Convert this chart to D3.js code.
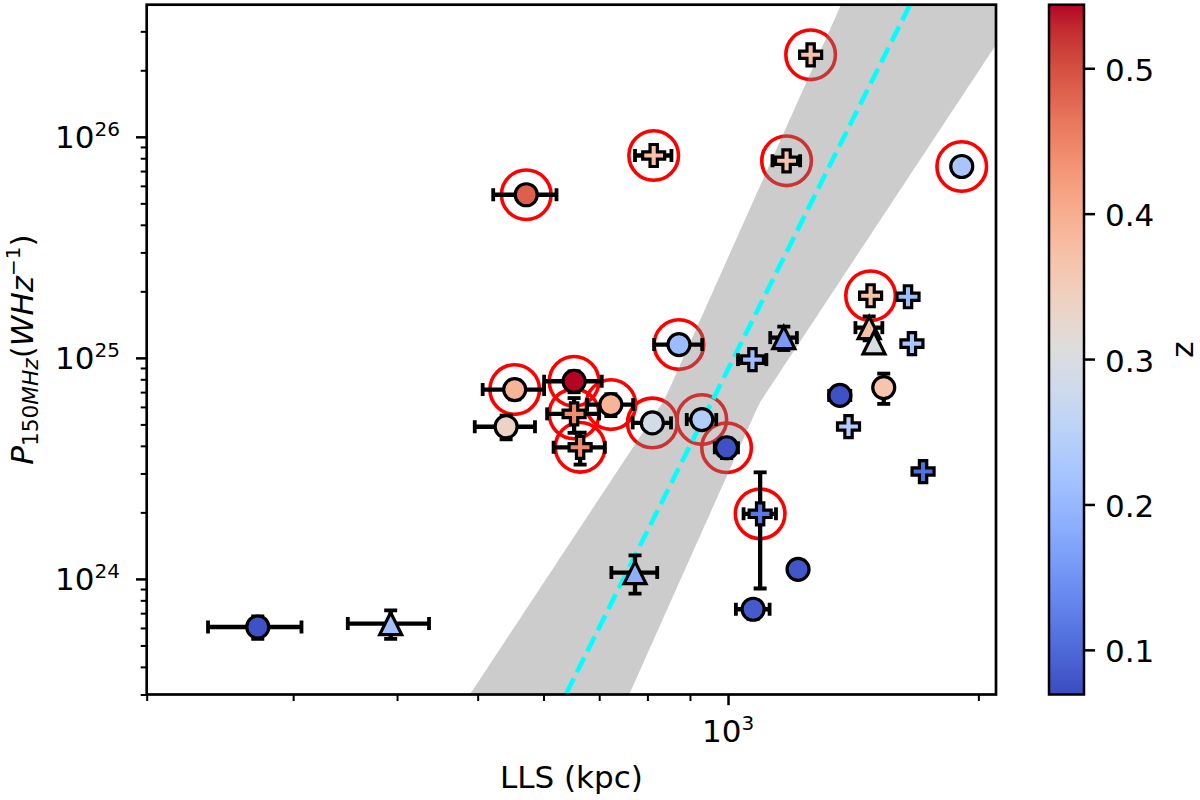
<!DOCTYPE html>
<html>
<head>
<meta charset="utf-8">
<script src="https://cdn.jsdelivr.net/npm/d3@7"></script>
<style>
  body { margin: 0; background: #ffffff; }
  text { font-family: "DejaVu Sans", sans-serif; fill: #000; }
</style>
</head>
<body>
<svg id="chart" width="1200" height="800"></svg>
<script>
// ---------------- data ----------------
const lls = [272, 393, 572, 814, 1176, 1257, 1910, 1484, 1646, 1478, 1498, 1664, 1167, 1070, 1363, 1539,
             1396, 1716, 873, 554, 653, 723, 653, 541, 664, 811, 930, 996, 1093, 1214, 1072, 773];
const power = [6.06e23, 6.28e23, 5.47e25, 8.23e25, 7.79e25, 2.35e26, 7.34e25, 1.91e25, 1.89e25, 1.37e25,
               1.17e25, 1.16e25, 1.235e25, 9.82e24, 6.76e24, 7.34e24, 4.89e24, 3.06e24, 1.149e25, 7.19e24,
               7.84e24, 6.15e24, 5.58e24, 4.88e24, 3.94e24, 5.08e24, 5.26e24, 3.92e24, 1.97e24, 1.105e24,
               7.29e23, 1.068e24];
const redshift = [0.075, 0.216, 0.485, 0.368, 0.368, 0.37, 0.226, 0.368, 0.21, 0.37, 0.297, 0.225, 0.16,
                  0.21, 0.075, 0.364, 0.24, 0.107, 0.207, 0.39, 0.5437, 0.39, 0.44, 0.335, 0.44, 0.288,
                  0.24, 0.075, 0.117, 0.08, 0.085, 0.188];
const markerType = ["o","^","o","P","P","P","o","P","P","^","^","P","^","P","o","o",
                    "P","P","o","o","o","o","P","o","P","o","o","o","P","o","o","^"];
const ringed = [0,0,1,1,1,1,1,1,0,0,0,0,0,0,0,0,0,0,1,1,1,1,1,0,1,1,1,1,1,0,0,0];
const llsErr = [35, 44, 50, 41, 45, 0, 0, 0, 0, 55, 0, 0, 43, 42, 40, 0, 0, 0, 58, 47, 52, 46, 47, 45, 47,
                43, 38, 32, 49, 0, 50, 49];
const powerErr = [0.7e23, 0.93e23, 0, 0, 0, 0, 0, 0, 0, 0.17e25, 0, 0, 0.15e25, 0, 0, 1.15e24, 0, 0, 0,
                  0.7e24, 0.85e24, 0.7e24, 1.0e24, 0.6e24, 0.65e24, 0, 0, 0.4e24, 1.065e24, 0, 0.7e23, 0.21e24];

// fit: log10 P = fitNorm + fitSlope * log10(LLS / 1000 kpc)
const fitNorm = 24.948, fitSlope = 7.54;
// band envelope: lines with two slopes, upper / lower normalisations at 1000 kpc
const bandSlopes = [5.70, 8.42];
const bandUpperNorm = [25.2466, 25.4536];
const bandLowerNorm = [24.5801, 24.478];

const xDomain = [200, 2100];
const yDomain = [3e23, 3.96e26];
const zDomain = [0.0693, 0.5437];
const xMajorTicks = [1000];
const xMinorTicks = [200, 300, 400, 500, 600, 700, 800, 900, 2000];
const yMajorTicks = [1e24, 1e25, 1e26];
const yMinorTicks = [3e23,4e23,5e23,6e23,7e23,8e23,9e23,2e24,3e24,4e24,5e24,6e24,7e24,8e24,9e24,
                     2e25,3e25,4e25,5e25,6e25,7e25,8e25,9e25,2e26,3e26];
const zTicks = [0.1, 0.2, 0.3, 0.4, 0.5];

// coolwarm (Moreland) colour stops
const coolwarm = [[59,76,192],[68,90,204],[77,104,215],[87,117,225],[98,130,234],[108,142,241],[119,154,247],
  [130,165,251],[141,176,254],[152,185,255],[163,194,255],[174,201,253],[184,208,249],[194,213,244],
  [204,217,238],[213,219,230],[221,221,221],[229,216,209],[236,211,197],[241,204,185],[245,196,173],
  [247,187,160],[247,177,148],[247,166,135],[244,154,123],[241,141,111],[236,127,99],[229,112,88],
  [222,96,77],[213,80,66],[203,62,56],[192,40,47],[180,4,38]];

// ---------------- layout ----------------
const L = 146.7, R = 996, T = 4.7, B = 694.5;
const CBL = 1049, CBR = 1084;
const FS = 31, FSS = 20;

const svg = d3.select("#chart");
const x = d3.scaleLog().domain(xDomain).range([L, R]);
const y = d3.scaleLog().domain(yDomain).range([B, T]);
const interp = d3.piecewise(d3.interpolateRgb, coolwarm.map(c => d3.rgb(c[0], c[1], c[2])));
const color = d3.scaleSequential(interp).domain(zDomain);

svg.append("defs").append("clipPath").attr("id", "plotclip")
  .append("rect").attr("x", L).attr("y", T).attr("width", R - L).attr("height", B - T);

const pts = lls.map((d, i) => ({
  L: d, P: power[i], z: redshift[i], m: markerType[i], ring: ringed[i], ex: llsErr[i], ey: powerErr[i]
}));

const plot = svg.append("g").attr("clip-path", "url(#plotclip)");

// rings (drawn first)
plot.append("g").selectAll("circle").data(pts.filter(p => p.ring)).join("circle")
  .attr("cx", p => x(p.L)).attr("cy", p => y(p.P)).attr("r", 24.8)
  .attr("fill", "none").attr("stroke", "#ff0000").attr("stroke-width", 3.6);

// confidence band
const logX = d3.range(0, 301).map(i => Math.log10(xDomain[0]) + i * (Math.log10(xDomain[1]) - Math.log10(xDomain[0])) / 300);
const bandData = logX.map(lx => {
  const X = lx - 3;
  return {
    L: Math.pow(10, lx),
    hi: Math.pow(10, Math.max(bandUpperNorm[0] + bandSlopes[0] * X, bandUpperNorm[1] + bandSlopes[1] * X)),
    lo: Math.pow(10, Math.min(bandLowerNorm[0] + bandSlopes[0] * X, bandLowerNorm[1] + bandSlopes[1] * X))
  };
});
plot.append("path").datum(bandData)
  .attr("d", d3.area().x(d => x(d.L)).y0(d => y(d.lo)).y1(d => y(d.hi)).curve(d3.curveBasis))
  .attr("fill", "#808080").attr("fill-opacity", 0.4);

// fit line
const fitData = xDomain.map(l => ({ L: l, P: Math.pow(10, fitNorm + fitSlope * Math.log10(l / 1000)) }));
plot.append("path").datum(fitData)
  .attr("d", d3.line().x(d => x(d.L)).y(d => y(d.P)))
  .attr("fill", "none").attr("stroke", "#00ffff").attr("stroke-width", 4.6)
  .attr("stroke-dasharray", "16.5 7");

// points with error bars
const cap = 6.5;
function markerPath(m, s) {
  const h = s / 2;
  if (m === "^") return `M0,${-h}L${-h},${h}L${h},${h}Z`;
  if (m === "P") {
    const a = s / 6;
    return `M${-a},${-h}L${a},${-h}L${a},${-a}L${h},${-a}L${h},${a}L${a},${a}L${a},${h}L${-a},${h}L${-a},${a}L${-h},${a}L${-h},${-a}L${-a},${-a}Z`;
  }
  return null;
}
pts.forEach(p => {
  const g = plot.append("g");
  const cx = x(p.L), cy = y(p.P);
  if (p.ex > 0) {
    const x0 = x(p.L - p.ex), x1 = x(p.L + p.ex);
    g.append("line").attr("x1", x0).attr("x2", x1).attr("y1", cy).attr("y2", cy)
      .attr("stroke", "#000").attr("stroke-width", 4.3);
    [x0, x1].forEach(xx => g.append("line").attr("x1", xx).attr("x2", xx)
      .attr("y1", cy - cap).attr("y2", cy + cap).attr("stroke", "#000").attr("stroke-width", 3.8));
  }
  if (p.ey > 0) {
    const y0 = y(p.P - p.ey), y1 = y(p.P + p.ey);
    g.append("line").attr("x1", cx).attr("x2", cx).attr("y1", y0).attr("y2", y1)
      .attr("stroke", "#000").attr("stroke-width", 4.3);
    [y0, y1].forEach(yy => g.append("line").attr("y1", yy).attr("y2", yy)
      .attr("x1", cx - cap).attr("x2", cx + cap).attr("stroke", "#000").attr("stroke-width", 3.8));
  }
  if (p.m === "o") {
    g.append("circle").attr("cx", cx).attr("cy", cy).attr("r", 11)
      .attr("fill", color(p.z)).attr("stroke", "#000").attr("stroke-width", 3.2);
  } else {
    g.append("path").attr("d", markerPath(p.m, 22)).attr("transform", `translate(${cx},${cy})`)
      .attr("fill", color(p.z)).attr("stroke", "#000").attr("stroke-width", 3.2)
      .attr("stroke-linejoin", "miter");
  }
});

// ---------------- axes ----------------
function styleAxis(g, w) {
  g.select(".domain").remove();
  g.selectAll(".tick line").attr("stroke", "#000").attr("stroke-width", w);
  g.selectAll(".tick text").remove();
}
svg.append("g").attr("transform", `translate(0,${B})`)
  .call(d3.axisBottom(x).tickValues(xMinorTicks).tickSize(6.5).tickSizeOuter(0).tickFormat(""))
  .call(g => styleAxis(g, 2));
svg.append("g").attr("transform", `translate(0,${B})`)
  .call(d3.axisBottom(x).tickValues(xMajorTicks).tickSize(10.7).tickSizeOuter(0).tickFormat(""))
  .call(g => styleAxis(g, 2.5));
svg.append("g").attr("transform", `translate(${L},0)`)
  .call(d3.axisLeft(y).tickValues(yMinorTicks).tickSize(6).tickSizeOuter(0).tickFormat(""))
  .call(g => styleAxis(g, 2));
svg.append("g").attr("transform", `translate(${L},0)`)
  .call(d3.axisLeft(y).tickValues(yMajorTicks).tickSize(10.7).tickSizeOuter(0).tickFormat(""))
  .call(g => styleAxis(g, 2.5));

// frame
svg.append("rect").attr("x", L).attr("y", T).attr("width", R - L).attr("height", B - T)
  .attr("fill", "none").attr("stroke", "#000").attr("stroke-width", 2.7);

// tick labels (10^n)
xMajorTicks.forEach(v => {
  const t = svg.append("text").attr("x", x(v)).attr("y", 741.7).attr("text-anchor", "middle")
    .attr("font-size", FS);
  t.append("tspan").text("10");
  t.append("tspan").attr("font-size", FSS).attr("dy", -11.7).text(Math.round(Math.log10(v)));
});
yMajorTicks.forEach(v => {
  const t = svg.append("text").attr("x", 120).attr("y", y(v) + 11.3).attr("text-anchor", "end")
    .attr("font-size", FS);
  t.append("tspan").text("10");
  t.append("tspan").attr("font-size", FSS).attr("dy", -12.3).text(Math.round(Math.log10(v)));
});

// axis labels
svg.append("text").attr("x", (L + R) / 2).attr("y", 788).attr("text-anchor", "middle")
  .attr("font-size", FS).text("LLS (kpc)");

const yl = svg.append("text").attr("transform", `translate(32.5,${(T + B) / 2}) rotate(-90)`)
  .attr("text-anchor", "middle").attr("font-size", FS);
yl.append("tspan").attr("font-style", "italic").text("P");
yl.append("tspan").attr("font-size", 21.7).attr("dy", 5).text("150");
yl.append("tspan").attr("font-size", 21.7).attr("font-style", "italic").text("MHz");
yl.append("tspan").attr("dy", -5).text("(");
yl.append("tspan").attr("font-style", "italic").text("WHz");
yl.append("tspan").attr("font-size", FSS).attr("dy", -13).text("\u22121");
yl.append("tspan").attr("dy", 13).text(")");

// ---------------- colorbar ----------------
const grad = svg.select("defs").append("linearGradient").attr("id", "cbgrad")
  .attr("x1", 0).attr("y1", 1).attr("x2", 0).attr("y2", 0);
d3.range(0, 65).forEach(i => {
  const t = i / 64;
  grad.append("stop").attr("offset", t).attr("stop-color", interp(t));
});
svg.append("rect").attr("x", CBL).attr("y", T).attr("width", CBR - CBL).attr("height", B - T)
  .attr("fill", "url(#cbgrad)").attr("stroke", "#000").attr("stroke-width", 2.5);
const zs = d3.scaleLinear().domain(zDomain).range([B, T]);
svg.append("g").attr("transform", `translate(${CBR},0)`)
  .call(d3.axisRight(zs).tickValues(zTicks).tickSize(11).tickSizeOuter(0).tickFormat(""))
  .call(g => styleAxis(g, 2.5));
zTicks.forEach(v => {
  svg.append("text").attr("x", 1105).attr("y", zs(v) + 12.5).attr("font-size", FS).text(d3.format(".1f")(v));
});
svg.append("text").attr("transform", `translate(1193,${(T + B) / 2}) rotate(-90)`)
  .attr("text-anchor", "middle").attr("font-size", FS).text("z");
</script>
</body>
</html>
